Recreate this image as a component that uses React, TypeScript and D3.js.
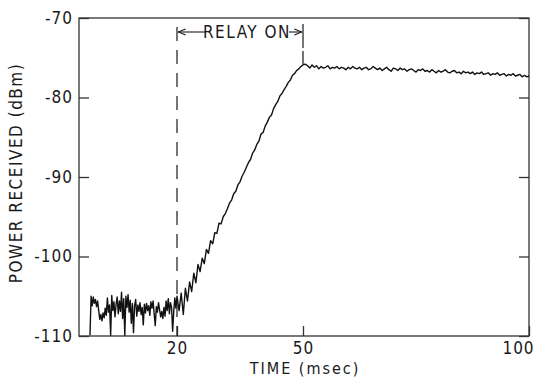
import React, { useEffect, useRef } from 'react';
import * as d3 from 'd3';

// time samples: noisy floor 0..20 ms (0.25 ms), ramp 20.5..50.5 ms (0.5 ms), plateau 51..100 ms (0.5 ms)
const floorDbm = [
  -109.9, -105.0, -106.2, -105.1, -105.9, -105.4, -106.3, -105.6, -106.8, -107.9,
  -107.3, -108.1, -107.1, -107.7, -106.5, -107.4, -105.2, -107.0, -106.1, -109.9,
  -104.9, -106.8, -105.7, -107.6, -106.0, -105.1, -107.2, -105.6, -106.9, -104.5,
  -107.8, -105.3, -109.9, -105.0, -106.4, -104.8, -107.0, -105.5, -108.4, -105.9,
  -109.6, -106.2, -105.4, -107.5, -106.1, -106.9, -105.8, -107.3, -106.4, -108.6,
  -106.0, -107.1, -105.9, -106.8, -106.2, -107.4, -105.7, -106.5, -105.6, -107.2,
  -108.7, -106.3, -107.0, -105.8, -106.7, -107.6, -106.9, -107.8, -106.4, -107.5,
  -105.6, -106.8, -105.3, -107.2, -105.8, -106.4, -109.4, -106.9, -105.2, -106.5,
  -105.0,
];
const rampDbm = [
  -106.8, -104.6, -107.3, -104.0, -105.6, -103.2, -104.4, -102.1, -103.3, -101.0,
  -101.9, -100.2, -100.9, -99.1, -99.6, -98.0, -98.4, -97.0, -97.1, -95.8,
  -95.9, -95.0, -94.6, -94.0, -93.3, -92.9, -92.1, -91.8, -91.0, -90.6,
  -89.9, -89.4, -88.8, -88.2, -87.8, -87.0, -86.6, -85.9, -85.5, -84.6,
  -84.4, -83.6, -83.1, -82.5, -82.2, -81.4, -80.9, -80.5, -79.8, -79.5,
  -79.0, -78.6, -78.1, -77.8, -77.2, -77.0, -76.6, -76.4, -76.1, -75.9,
  -75.8,
];
const plateauDbm = [
  -76.0, -76.3, -75.9, -76.2, -76.0, -76.4, -76.1, -76.3, -76.2, -76.0,
  -76.4, -76.2, -76.3, -76.1, -76.4, -76.2, -76.3, -76.5, -76.2, -76.4,
  -76.1, -76.3, -76.4, -76.2, -76.5, -76.3, -76.2, -76.5, -76.4, -76.1,
  -76.3, -76.5, -76.3, -76.6, -76.4, -76.2, -76.5, -76.7, -76.3, -76.4,
  -76.6, -76.3, -76.5, -76.4, -76.7, -76.5, -76.4, -76.6, -76.8, -76.5,
  -76.6, -76.4, -76.7, -76.6, -76.8, -76.5, -76.7, -76.9, -76.6, -76.8,
  -76.7, -76.5, -76.8, -76.9, -76.7, -76.6, -76.9, -76.8, -77.0, -76.7,
  -76.9, -76.8, -77.0, -76.8, -77.1, -76.9, -77.0, -76.8, -77.1, -77.0,
  -76.9, -77.2, -77.0, -77.1, -76.9, -77.2, -77.1, -77.0, -77.3, -77.1,
  -77.2, -77.0, -77.3, -77.2, -77.1, -77.4, -77.2, -77.4, -77.3,
];

const xTicks = [20, 50, 100];
const yTicks = [-70, -80, -90, -100, -110];
const relayStart = 20;
const relayEnd = 50;

const FONT = "'Liberation Sans Narrow', 'DejaVu Sans Condensed', 'DejaVu Sans', sans-serif";

const App: React.FC = () => {
  const svgRef = useRef<SVGSVGElement | null>(null);

  useEffect(() => {
    if (!svgRef.current) return;
    const W = 535;
    const H = 379;
    const left = 79, right = 529, top = 18, bottom = 336;

    const svg = d3.select(svgRef.current);
    svg.selectAll('*').remove();

    // hand-drawn axis, not quite uniform, so a polylinear scale
    const x = d3.scaleLinear().domain([0, 20, 50, 100]).range([90, 177, 303, right]);
    const y = d3.scaleLinear().domain([-110, -70]).range([bottom, top]);

    const pts: [number, number][] = [];
    floorDbm.forEach((v, i) => pts.push([i * 0.25, v]));
    rampDbm.forEach((v, i) => pts.push([20.5 + i * 0.5, v]));
    plateauDbm.forEach((v, i) => pts.push([51 + i * 0.5, v]));

    const ink = '#1a1a1a';

    // frame
    svg.append('rect')
      .attr('x', left).attr('y', top)
      .attr('width', right - left).attr('height', bottom - top)
      .attr('fill', 'none').attr('stroke', '#333').attr('stroke-width', 1.3);

    // left axis with labels
    const yAxis = svg.append('g')
      .attr('transform', `translate(${left},0)`)
      .call(d3.axisLeft(y).tickValues(yTicks).tickSizeInner(-10).tickSizeOuter(0).tickPadding(6)
        .tickFormat(d => `${d}`));
    yAxis.select('.domain').remove();
    yAxis.selectAll('line').attr('stroke', '#333').attr('stroke-width', 1.3);
    yAxis.selectAll('text')
      .style('font-family', FONT).style('font-size', '17px').attr('fill', ink)
      .attr('letter-spacing', '1px');

    // right axis ticks only
    const yAxisR = svg.append('g')
      .attr('transform', `translate(${right},0)`)
      .call(d3.axisRight(y).tickValues(yTicks).tickSizeInner(-10).tickSizeOuter(0).tickFormat(() => ''));
    yAxisR.select('.domain').remove();
    yAxisR.selectAll('line').attr('stroke', '#333').attr('stroke-width', 1.3);

    // bottom axis
    const xAxis = svg.append('g')
      .attr('transform', `translate(0,${bottom})`)
      .call(d3.axisBottom(x).tickValues(xTicks).tickSizeInner(-10).tickSizeOuter(0).tickPadding(6)
        .tickFormat(d => `${d}`));
    xAxis.select('.domain').remove();
    xAxis.selectAll('line').attr('stroke', '#333').attr('stroke-width', 1.3);
    xAxis.selectAll('text')
      .style('font-family', FONT).style('font-size', '17px').attr('fill', ink)
      .attr('letter-spacing', '1px')
      .attr('dx', d => (d === 100 ? -11 : 0));

    // relay dashed markers
    svg.append('line')
      .attr('x1', x(relayStart)).attr('x2', x(relayStart))
      .attr('y1', 27).attr('y2', bottom)
      .attr('stroke', ink).attr('stroke-width', 1.2).attr('stroke-dasharray', '14 9');
    svg.append('line')
      .attr('x1', x(relayEnd)).attr('x2', x(relayEnd))
      .attr('y1', 24).attr('y2', 64)
      .attr('stroke', ink).attr('stroke-width', 1.2).attr('stroke-dasharray', '24 3 14 9');

    // RELAY ON arrows
    const defs = svg.append('defs');
    defs.append('marker')
      .attr('id', 'arr').attr('viewBox', '0 0 10 10').attr('refX', 10).attr('refY', 5)
      .attr('markerWidth', 7).attr('markerHeight', 7).attr('orient', 'auto-start-reverse')
      .append('path').attr('d', 'M0,1 L10,5 L0,9').attr('fill', 'none').attr('stroke', ink).attr('stroke-width', 1.5);
    const ay = 32;
    svg.append('line')
      .attr('x1', x(relayStart) + 1).attr('x2', 205).attr('y1', ay).attr('y2', ay)
      .attr('stroke', ink).attr('stroke-width', 1.1).attr('marker-start', 'url(#arr)');
    svg.append('line')
      .attr('x1', 289).attr('x2', x(relayEnd) - 1).attr('y1', ay).attr('y2', ay)
      .attr('stroke', ink).attr('stroke-width', 1.1).attr('marker-end', 'url(#arr)');
    svg.append('text')
      .attr('x', 247).attr('y', ay + 6)
      .attr('text-anchor', 'middle')
      .style('font-family', FONT).style('font-size', '17px').attr('fill', ink)
      .attr('letter-spacing', '1.5px')
      .text('RELAY ON');

    // trace
    const line = d3.line<[number, number]>().x(d => x(d[0])).y(d => y(d[1]));
    svg.append('path')
      .datum(pts)
      .attr('d', line)
      .attr('fill', 'none').attr('stroke', '#111').attr('stroke-width', 1.4)
      .attr('stroke-linejoin', 'round');

    // axis titles
    svg.append('text')
      .attr('transform', `translate(22,${(top + bottom) / 2 - 4}) rotate(-90)`)
      .attr('text-anchor', 'middle')
      .style('font-family', FONT).style('font-size', '17px').attr('fill', ink)
      .attr('letter-spacing', '1.5px')
      .text('POWER RECEIVED (dBm)');
    svg.append('text')
      .attr('x', x(50) + 2).attr('y', 374)
      .attr('text-anchor', 'middle')
      .style('font-family', FONT).style('font-size', '16px').attr('fill', ink)
      .attr('letter-spacing', '2px')
      .text('TIME (msec)');

    svg.attr('width', W).attr('height', H);
  }, []);

  return (
    <svg
      ref={svgRef}
      width={535}
      height={379}
      style={{ position: 'absolute', left: 0, top: 0, background: '#fff' }}
    />
  );
};

export default App;
